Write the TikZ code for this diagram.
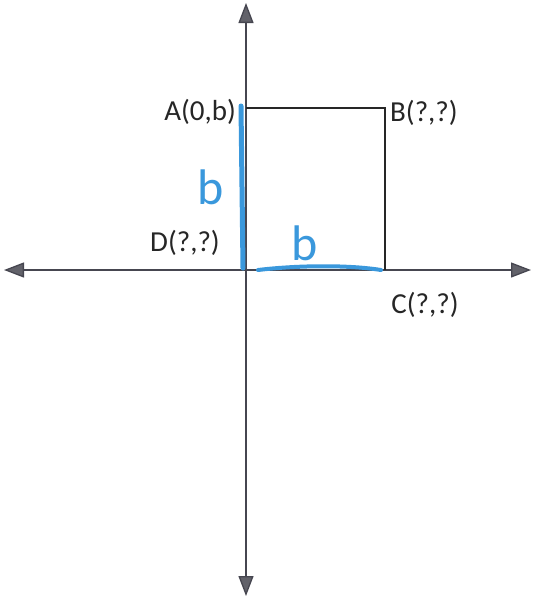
\documentclass[tikz,border=0pt]{standalone}
\usepackage{fontspec}
\setmainfont{Carlito}
\usetikzlibrary{arrows.meta, positioning}
\definecolor{Penblue}{RGB}{58,152,220}
\definecolor{Axisgray}{RGB}{70,70,80}

\begin{document}
\begin{tikzpicture}[
  x=1pt, y=-1pt,
  font=\fontsize{29}{33}\selectfont,
  axis/.style={draw=Axisgray, line width=1.3pt,
               -{Triangle[length=20pt, width=15pt, fill=Axisgray!85]}},
  edge/.style={draw=black!85, line width=1.1pt},
  pen/.style={draw=Penblue, line width=5pt, line cap=round},
  lbl/.style={inner sep=0pt, text=black!85},
  hand/.style={text=Penblue, inner sep=0pt, font=\fontsize{50}{54}\selectfont}
]
\useasboundingbox (0,0) rectangle (535,598);

%% --- Punkte ---
\coordinate (O) at (246,270);
\coordinate (A) at (246,108);
\coordinate (B) at (385,108);
\coordinate (C) at (385,270);
\coordinate (top) at (246,3);
\coordinate (bot) at (246,596);
\coordinate (left) at (4,270);
\coordinate (right) at (531,270);

%% --- Achsen ---
\draw[axis] (O) -- (top);
\draw[axis] (O) -- (bot);
\draw[axis] (O) -- (left);
\draw[axis] (O) -- (right);

%% --- Rechteck ---
\draw[edge] (A) -- (B) -- (C);

%% --- blaue Markierung ---
\draw[pen] (241,106) -- (243,268);
\draw[pen, line width=4pt] (258,270) .. controls (300,265) and (350,265) .. (381,270);

%% --- Beschriftungen ---
\node[lbl, anchor=east]  (la) at (236,112) {A(0,b)};
\node[lbl, anchor=west]  (lb) at (390,113) {B(?,?)};
\node[lbl]               (ld) at (185,243) {D(?,?)};
\node[lbl]               (lc) at (425,305) {C(?,?)};
\node[hand]              (hb1) at (211,187) {b};
\node[hand]              (hb2) at (305,243) {b};

\end{tikzpicture}
\end{document}
